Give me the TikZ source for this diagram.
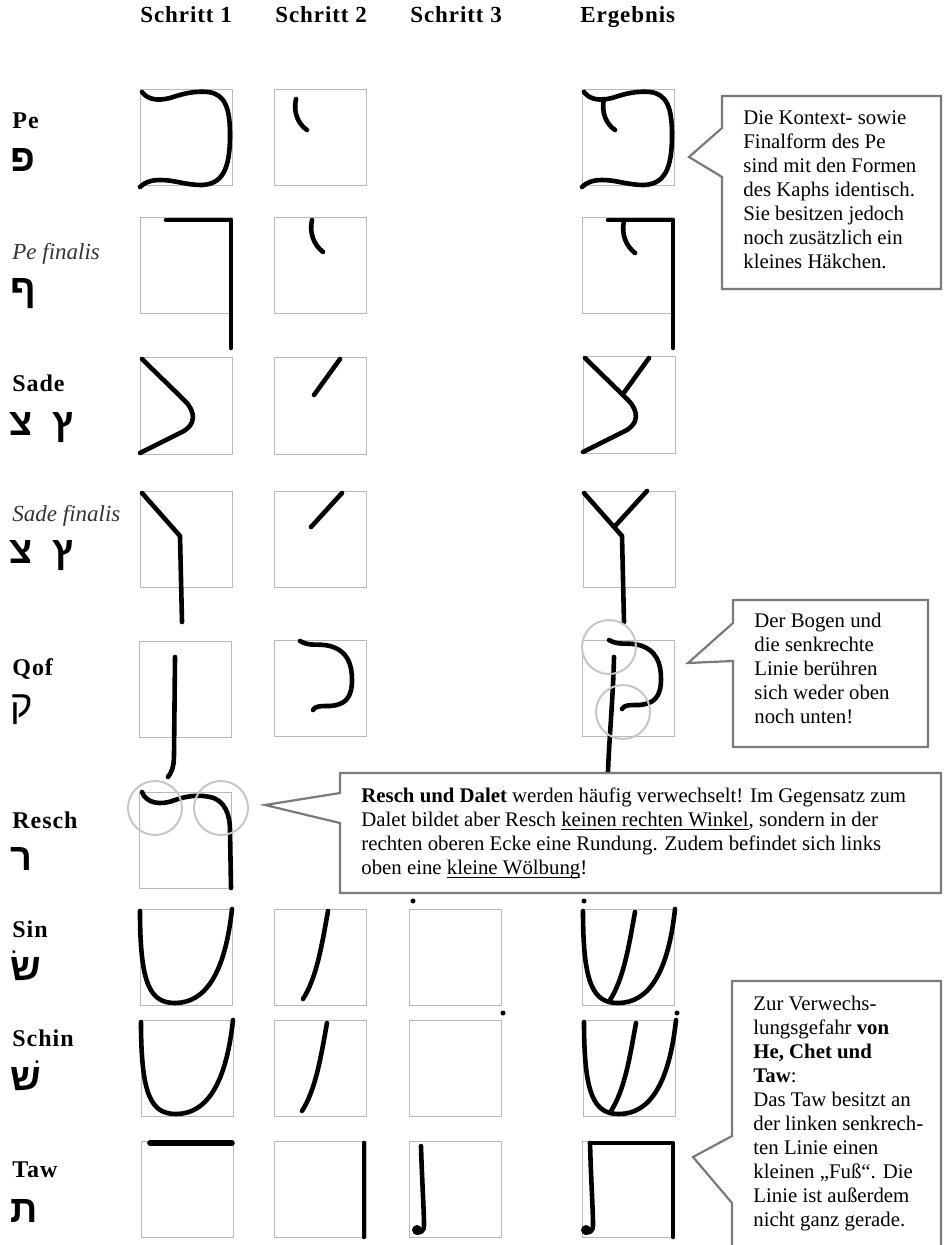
\documentclass[tikz,border=0pt]{standalone}
\usepackage{fontspec}
\setmainfont{Liberation Serif}
\newfontfamily\hebfont[Script=Hebrew]{Liberation Sans}
\newfontfamily\spacedfont[LetterSpace=4]{Liberation Serif}
\newcommand\unterstrich[1]{\setbox0\hbox{#1}\dp0=0pt\vtop{\box0\kern1.3pt\hrule height .45pt}}

\begin{document}
\begin{tikzpicture}[
  x=0.5pt, y=-0.5pt,
  font=\fontsize{10.4}{12}\selectfont,
  cell/.style={draw=gray!55, line width=0.5pt},
  pen/.style={line width=2.3pt, line cap=round, line join=round},
  ring/.style={draw=gray!45, line width=1pt},
  note/.style={draw=black!52, line width=1.1pt, fill=white},
  notetext/.style={anchor=base west, align=left, inner sep=0pt},
  head/.style={anchor=base west, inner sep=0pt,
    font=\spacedfont\bfseries\fontsize{11.5}{13}\selectfont},
  lettername/.style={head, font=\spacedfont\bfseries\fontsize{12}{14}\selectfont},
  finalname/.style={anchor=base west, inner sep=0pt, text=black!80,
    font=\itshape\fontsize{11.5}{14}\selectfont},
  glyph/.style={anchor=base west, inner sep=0pt,
    font=\hebfont\bfseries\fontsize{19}{19}\selectfont},
  % strokes, relative to the top left corner of a box
  pebow/.pic={\draw[pen] (2,2) .. controls (8,10) and (18,11) .. (30,8)
    .. controls (45,3) and (55,1) .. (68,2) .. controls (85,4) and (90,18) .. (90,45)
    .. controls (90,80) and (82,94) .. (62,95) .. controls (45,95) and (35,90) .. (20,90)
    .. controls (10,90) and (4,93) .. (0,97);},
  pehook/.pic={\draw[pen] (22,9) .. controls (19,22) and (24,34) .. (33,40);},
  pefbar/.pic={\draw[pen] (26,2) -- (91,2) -- (91,130);},
  pefhook/.pic={\draw[pen] (38,2) .. controls (35,15) and (40,27) .. (49,34);},
  sadebody/.pic={\draw[pen] (2,1) -- (45,43) .. controls (56,54) and (56,67) .. (42,74) -- (0,95);},
  sadearm/.pic={\draw[pen] (66,1) -- (40,37);},
  sadefbody/.pic={\draw[pen] (2,2) -- (40,45) -- (42,131);},
  sadefarm/.pic={\draw[pen] (68,2) -- (37,36);},
  qofbow/.pic={\draw[pen] (26,0) .. controls (36,6) and (44,2) .. (56,5)
    .. controls (74,10) and (78,24) .. (78,39) .. controls (78,57) and (71,64) .. (56,65)
    .. controls (46,65) and (41,65) .. (39,69);},
  sinbowl/.pic={\draw[pen] (0,2) .. controls (0,75) and (10,94) .. (35,94)
    .. controls (65,94) and (85,65) .. (92,0);},
  sinstroke/.pic={\draw[pen] (54,2) .. controls (48,35) and (43,68) .. (29,90);},
  tawroof/.pic={\draw[pen, line width=2.8pt] (10,2) -- (92,2);},
  tawwall/.pic={\draw[pen] (90,2) -- (90,96);},
  tawleg/.pic={\draw[pen] (12,5) .. controls (13,40) and (15,70) .. (15,84)
    .. controls (15,91) and (11,92) .. (7,91); \fill (8,89) circle[radius=5];}
]
\useasboundingbox (0,0) rectangle (943,1245);

% column heads
\node[head] (hs1) at (140,23) {Schritt 1};
\node[head] (hs2) at (275,23) {Schritt 2};
\node[head] (hs3) at (410,23) {Schritt 3};
\node[head] (herg) at (580,23) {Ergebnis};

% letter names
\node[lettername] (lpe) at (12,129) {Pe};
\node[finalname] (lpef) at (12,260) {Pe finalis};
\node[lettername] (lsade) at (12,392) {Sade};
\node[finalname] (lsadef) at (12,521) {Sade finalis};
\node[lettername] (lqof) at (12,675) {Qof};
\node[lettername] (lresch) at (12,828) {Resch};
\node[lettername] (lsin) at (12,937) {Sin};
\node[lettername] (lschin) at (12,1046) {Schin};
\node[lettername] (ltaw) at (12,1177) {Taw};

% hebrew letters
\node[glyph] (gpe) at (10,172) {פ};
\node[glyph] (gpef) at (10,302) {ף};
\node[glyph] (gsade) at (9,435) {צ};
\node[glyph] (gsadefin) at (52,435) {ץ};
\node[glyph] (gsadeb) at (9,563) {צ};
\node[glyph] (gsadefinb) at (52,563) {ץ};
\node[glyph, font=\hebfont\fontsize{19}{19}\selectfont] (gqof) at (10,717) {ק};
\node[glyph] (gresch) at (10,870) {ר};
\node[glyph] (gsin) at (10,980) {שׂ};
\node[glyph] (gschin) at (10,1090) {שׁ};
\node[glyph] (gtaw) at (10,1222) {ת};

% boxes
\foreach \bx/\by in {140/90, 274/90, 582/90, 140/218, 274/218, 582/218,
    140/358, 274/358, 583/357, 140/491, 274/491, 583/491,
    139/641, 274/640, 582/640, 139/792,
    140/909, 274/909, 409/909, 582/909,
    141/1020, 274/1020, 409/1020, 583/1020,
    141/1141, 274/1141, 409/1141, 582/1141}
  \draw[cell] (\bx,\by) rectangle ++(92,96);

% Pe
\pic at (140,90) {pebow};
\pic at (274,90) {pehook};
\pic at (582,90) {pebow};
\pic at (582,90) {pehook};
% Pe finalis
\pic at (140,218) {pefbar};
\pic at (274,218) {pefhook};
\pic at (582,218) {pefbar};
\pic at (586,219) {pefhook};
% Sade
\pic at (140,358) {sadebody};
\pic at (274,358) {sadearm};
\pic at (583,357) {sadebody};
\pic at (583,357) {sadearm};
% Sade finalis
\pic at (140,491) {sadefbody};
\pic at (274,491) {sadefarm};
\pic at (582,491) {sadefbody};
\pic at (579,489) {sadefarm};
% Qof
\draw[pen] (175,657) -- (174,755) .. controls (174,768) and (171,773) .. (168,777);
\pic at (274,641) {qofbow};
\pic at (583,640) {qofbow};
\draw[pen] (614,657) .. controls (613,700) and (609,740) .. (608,772);
\draw[ring] (609,647) circle[radius=27];
\draw[ring] (623,712) circle[radius=27];
% Resch
\draw[pen] (142,792) .. controls (146,803) and (160,806) .. (175,800)
  .. controls (190,795) and (200,795) .. (210,797)
  .. controls (225,800) and (230,815) .. (230,830) -- (231,888);
\draw[ring] (155,808) circle[radius=27];
\draw[ring] (221,808) circle[radius=27];
% Sin
\pic at (140,909) {sinbowl};
\pic at (274,909) {sinstroke};
\fill (413,901) circle[radius=2.5];
\pic at (583,909) {sinbowl};
\pic at (581,910) {sinstroke};
\fill (584,901) circle[radius=2.5];
% Schin
\pic at (141,1020) {sinbowl};
\pic at (273,1021) {sinstroke};
\fill (503,1013) circle[radius=2.5];
\pic at (584,1020) {sinbowl};
\pic at (582,1021) {sinstroke};
\fill (677,1013) circle[radius=2.5];
% Taw
\pic at (140,1141) {tawroof};
\pic at (274,1141) {tawwall};
\pic at (409,1141) {tawleg};
\draw[pen] (590,1143) -- (673,1143) -- (673,1237);
\draw[pen] (590,1143) .. controls (591,1180) and (593,1210) .. (593,1225)
  .. controls (593,1232) and (589,1233) .. (585,1232);
\fill (586,1230) circle[radius=5];

% callouts (text nodes sit on the baseline of their last line)
\draw[note] (722,96) -- (941,96) -- (941,289) -- (722,289) -- (722,177)
  -- (689,157) -- (722,128) -- cycle;
\node[notetext] (tpe) at (743,269) {Die Kontext- sowie\\Finalform des Pe\\sind mit den Formen\\des Kaphs identisch.\\Sie besitzen jedoch\\noch zusätzlich ein\\kleines Häkchen.};

\draw[note] (733,600) -- (928,600) -- (928,747) -- (733,747) -- (733,661)
  -- (688,663) -- (733,623) -- cycle;
\node[notetext] (tqof) at (754,723) {Der Bogen und\\die senkrechte\\Linie berühren\\sich weder oben\\noch unten!};

\draw[note] (340,773) -- (941,773) -- (941,893) -- (340,893) -- (340,823)
  -- (265,805) -- (340,793) -- cycle;
\node[notetext] (tresch) at (361,874) {\textbf{Resch und Dalet} werden häufig verwechselt! Im Gegensatz zum\\Dalet bildet aber Resch \unterstrich{keinen rechten Winkel}, sondern in der\\rechten oberen Ecke eine Rundung. Zudem befindet sich links\\oben eine \unterstrich{kleine Wölbung}!};

\draw[note] (732,981) -- (941,981) -- (941,1260) -- (732,1260) -- (732,1203)
  -- (693,1157) -- (732,1136) -- cycle;
\node[notetext] (ttaw) at (753,1226) {Zur Verwechs-\\lungsgefahr \textbf{von}\\\textbf{He, Chet und}\\\textbf{Taw}:\\Das Taw besitzt an\\der linken senkrech-\\ten Linie einen\\kleinen „Fuß“. Die\\Linie ist außerdem\\nicht ganz gerade.};
\end{tikzpicture}
\end{document}
